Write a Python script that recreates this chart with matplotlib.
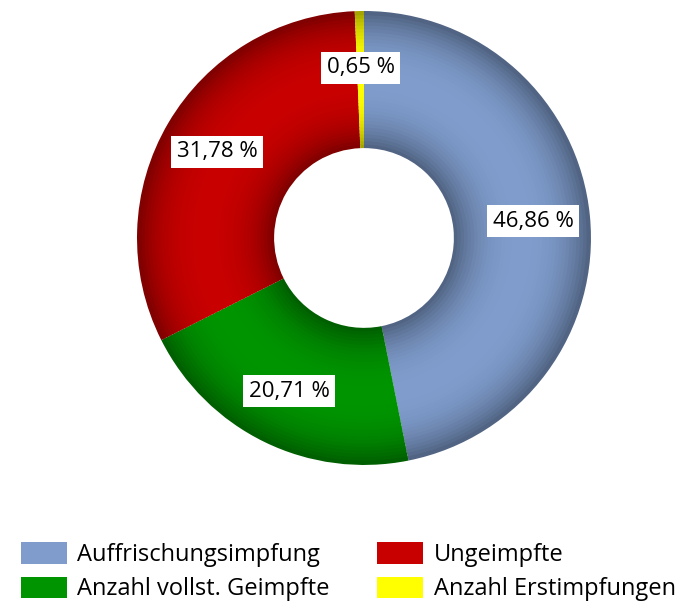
import numpy as np
import matplotlib.pyplot as plt
import matplotlib.colors as mcolors
from matplotlib.patches import Patch

plt.rcParams['font.family'] = ['Open Sans', 'DejaVu Sans']

# Daten (Anteile in %)
kategorien = ['Auffrischungsimpfung', 'Anzahl vollst. Geimpfte', 'Ungeimpfte', 'Anzahl Erstimpfungen']
werte = [46.86, 20.71, 31.78, 0.65]
label_texte = ['46,86 %', '20,71 %', '31,78 %', '0,65 %']
farben = ['#7f9ccc', '#009400', '#c80000', '#ffff00']

fig = plt.figure(figsize=(6.84, 6.03), dpi=100)
ax = fig.add_axes([0.2003, 0.2289, 0.6637, 0.7529])

# Donut mit radialem Schatten: viele schmale Ringe
r_innen, r_aussen = 0.40, 1.0
n = 40
kanten = np.linspace(r_innen, r_aussen, n + 1)
for i in range(n):
    t = (i + 0.5) / n
    f = 1 - 0.38 * abs(2 * t - 1) ** 2.5
    cols = [np.clip(np.array(mcolors.to_rgb(c)) * f, 0, 1) for c in farben]
    ax.pie(werte, radius=kanten[i + 1], startangle=90, counterclock=False,
           colors=cols, wedgeprops=dict(width=kanten[i + 1] - kanten[i] + 0.004, linewidth=0))

# Beschriftungen
winkel = 90 - (np.cumsum(werte) - np.array(werte) / 2) / sum(werte) * 360
for w, txt in zip(winkel, label_texte):
    r = 0.75
    ax.text(r * np.cos(np.radians(w)), r * np.sin(np.radians(w)), txt, ha='center', va='center',
            fontsize=16, color='black',
            bbox=dict(facecolor='white', edgecolor='none', pad=4))

ax.set_xlim(-1, 1)
ax.set_ylim(-1, 1)
ax.set_aspect('equal')
ax.axis('off')

handles = [Patch(facecolor=c, edgecolor='none') for c in farben]
fig.legend(handles, kategorien, ncol=2, loc='lower left', bbox_to_anchor=(0.03, 0.003),
           frameon=False, fontsize=17, handlelength=1.95, handleheight=1.0,
           columnspacing=2.0, labelspacing=0.4, handletextpad=0.45,
           borderpad=0, borderaxespad=0)

plt.savefig('out.png', dpi=100)
